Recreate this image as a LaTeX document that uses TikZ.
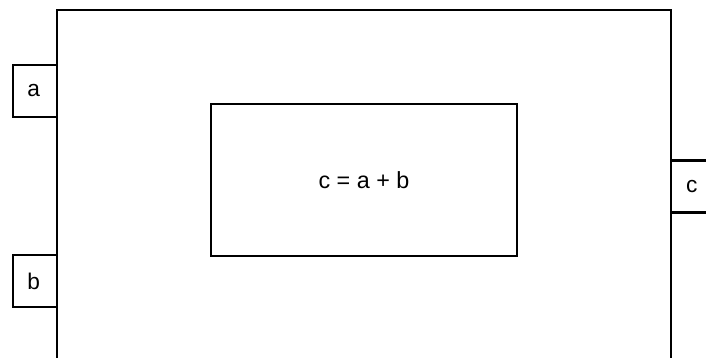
\documentclass[tikz,border=0pt]{standalone}
\usepackage{fontspec}
\setmainfont{Liberation Sans}
\usetikzlibrary{positioning}

\begin{document}
\begin{tikzpicture}[
    x=0.75pt, y=-0.75pt,
    block/.style={draw, line width=1.7pt, minimum width=460.5pt, minimum height=277.5pt, inner sep=0pt},
    port/.style={draw, line width=1.7pt, fill=white, minimum width=33pt, minimum height=39pt, inner sep=0pt, font=\fontsize{17}{20}\selectfont},
    body/.style={draw, line width=1.7pt, minimum width=229.5pt, minimum height=114pt, inner sep=0pt, font=\fontsize{17.5}{20}\selectfont}
]
\useasboundingbox (0,0) rectangle (706,357);
\clip (0,0) rectangle (706,357);
\fill[white] (0,0) rectangle (706,357);

\node[block] (adder) at (364,195) {};
\node[body] (sum) at (364,180) {\raisebox{-5pt}{c = a + b}};

\node[port] (ina) at (35,91) {\hspace{-2pt}a};
\node[port] (inb) at (35,281) {\hspace{-2pt}b};
\node[port] (outc) at (693,186.5) {\hspace{-2pt}c};
\end{tikzpicture}
\end{document}
